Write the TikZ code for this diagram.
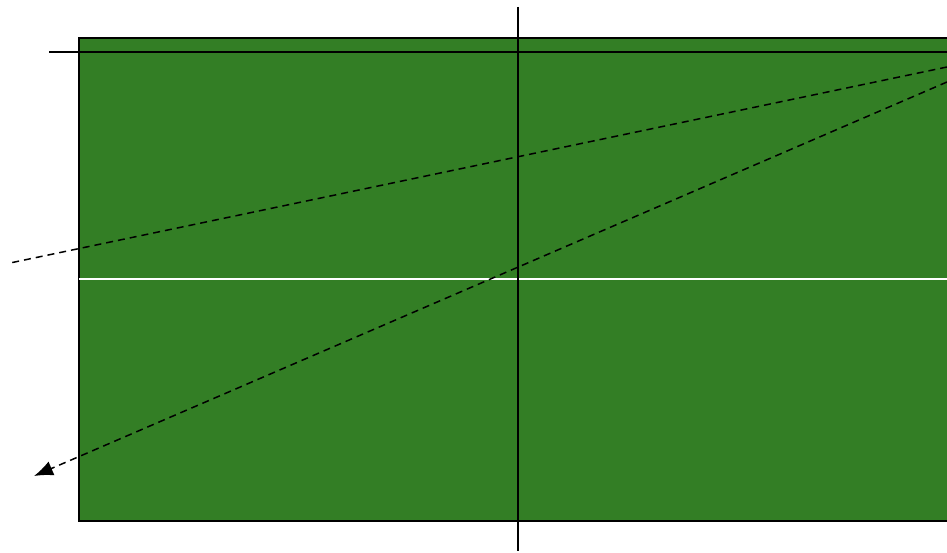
\documentclass[tikz,border=0pt]{standalone}
\usepackage{tikz}
\usetikzlibrary{arrows.meta}
\definecolor{tablegreen}{RGB}{51,126,37}
\tikzset{
  table/.style={fill=tablegreen,draw=black,line width=1.5pt},
  net/.style={draw=black,line width=1.6pt},
  midline/.style={draw=white,line width=1.5pt},
  path/.style={draw=black,line width=1.5pt,dash pattern=on 7pt off 5pt},
  line/.style={-{Latex[length=19pt,width=15pt]}}
}

\begin{document}
\begin{tikzpicture}[x=1pt,y=-1pt]
\useasboundingbox (0,0) rectangle (947,553);
\clip (0,0) rectangle (947,553);
\draw[table] (79,38) rectangle (960,521);
\draw[midline] (79,279) -- (960,279);
\coordinate (baseL) at (49,52);
\coordinate (baseR) at (960,52);
\coordinate (netT) at (518,7);
\coordinate (netB) at (518,551);
\draw[net] (baseL) -- (baseR);
\draw[net] (netT) -- (netB);
\coordinate (hitA) at (947,67);
\coordinate (outA) at (10,263);
\coordinate (hitB) at (947,82);
\coordinate (outB) at (34,476);
\draw[path] (hitA) -- (outA);
\draw[path, line] (hitB) -- (outB);
\end{tikzpicture}
\end{document}
